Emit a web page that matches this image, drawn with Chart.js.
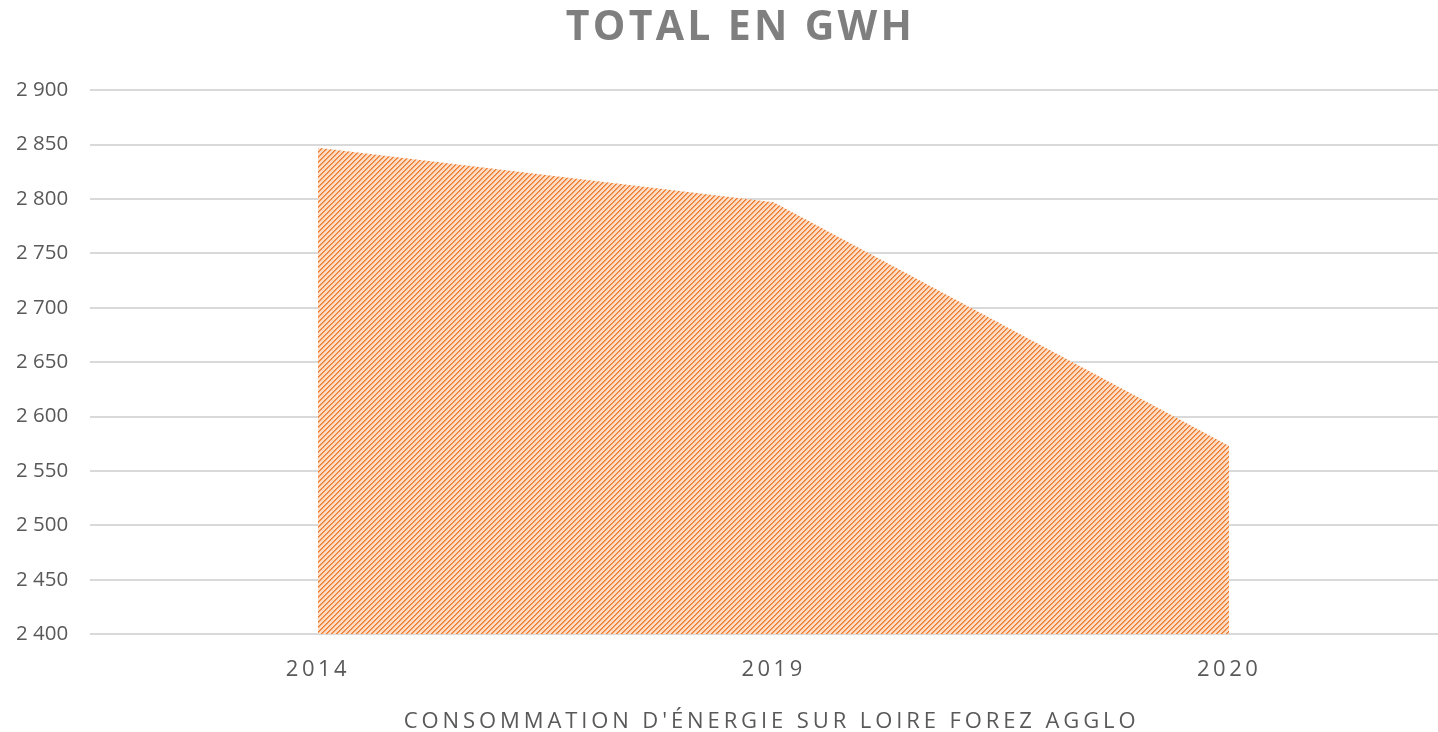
<!DOCTYPE html>
<html>
<head>
<meta charset="utf-8">
<script src="https://cdn.jsdelivr.net/npm/chart.js@4/dist/chart.umd.min.js"></script>
<style>
  html, body { margin: 0; padding: 0; background: #fff; overflow: hidden; }
  #wrap { width: 1438px; height: 732px; overflow: hidden; position: relative; }
  canvas { display: block; }
</style>
</head>
<body>
<div id="wrap"><canvas id="c" width="1480" height="732"></canvas></div>
<script>
const categories = ['2014', '2019', '2020'];
const totalGWh = [2847, 2797, 2573];
const yTicks = [2400, 2450, 2500, 2550, 2600, 2650, 2700, 2750, 2800, 2850, 2900];
const chartTitle = 'TOTAL EN GWH';
const xTitle = "CONSOMMATION D'ÉNERGIE SUR LOIRE FOREZ AGGLO";

function makePattern() {
  const t = document.createElement('canvas');
  t.width = 5; t.height = 5;
  const g = t.getContext('2d');
  g.fillStyle = '#fcdcc4';
  g.fillRect(0, 0, 5, 5);
  for (let i = 0; i < 5; i++) {
    g.fillStyle = '#ed7d31';
    g.fillRect(i, 4 - i, 1, 1);
    g.fillStyle = '#f29a5e';
    g.fillRect((i + 1) % 5, 4 - i, 1, 1);
  }
  return document.getElementById('c').getContext('2d').createPattern(t, 'repeat');
}

const spacingPlugin = {
  id: 'spacing',
  afterUpdate(chart) {
    const wrap = (obj, name, sp, dx) => {
      if (!obj || obj['__p_' + name]) return;
      obj['__p_' + name] = true;
      const orig = obj[name];
      obj[name] = function (...args) {
        const ctx = this.ctx;
        ctx.save();
        ctx.translate(dx, 0);
        ctx.letterSpacing = sp;
        orig.apply(this, args);
        ctx.letterSpacing = '0px';
        ctx.restore();
        ctx.letterSpacing = '0px';
      };
    };
    wrap(chart.scales.x, 'drawLabels', '3.5px', 0);
    wrap(chart.scales.x, 'drawTitle', '3.9px', -2);
    wrap(chart.titleBlock, 'draw', '3.3px', 15);
  },
  beforeDraw(chart) { chart.ctx.letterSpacing = '0px'; }
};

new Chart(document.getElementById('c'), {
  type: 'line',
  data: {
    labels: categories,
    datasets: [{
      data: totalGWh,
      backgroundColor: makePattern(),
      borderWidth: 0,
      pointRadius: 0,
      fill: 'start',
      tension: 0
    }]
  },
  plugins: [spacingPlugin],
  options: {
    responsive: false,
    devicePixelRatio: 1,
    animation: false,
    layout: { padding: { left: -6, right: 23, top: 0, bottom: -3 } },
    plugins: {
      legend: { display: false },
      tooltip: { enabled: false },
      title: {
        display: true,
        text: chartTitle,
        color: '#7f7f7f',
        font: { family: 'Open Sans', size: 41, weight: 'bold' },
        padding: { top: 4, bottom: 37 }
      }
    },
    scales: {
      x: {
        offset: true,
        grid: { display: false, drawTicks: false },
        border: { display: false },
        ticks: {
          color: '#595959',
          font: { family: 'Open Sans', size: 22 },
          padding: 22,
          maxRotation: 0
        },
        title: {
          display: true,
          text: xTitle,
          color: '#595959',
          font: { family: 'Open Sans', size: 22 },
          padding: { top: 4, bottom: 0 }
        }
      },
      y: {
        min: 2400,
        max: 2900,
        afterBuildTicks(scale) { scale.ticks = yTicks.map(v => ({ value: v })); },
        grid: { color: '#d9d9d9', lineWidth: 2, drawTicks: false },
        border: { display: false },
        ticks: {
          color: '#595959',
          font: { family: 'Open Sans', size: 20.5 },
          padding: 22,
          callback: v => String(v).replace(/\B(?=(\d{3})+(?!\d))/g, ' ')
        }
      }
    }
  }
});
</script>
</body>
</html>
